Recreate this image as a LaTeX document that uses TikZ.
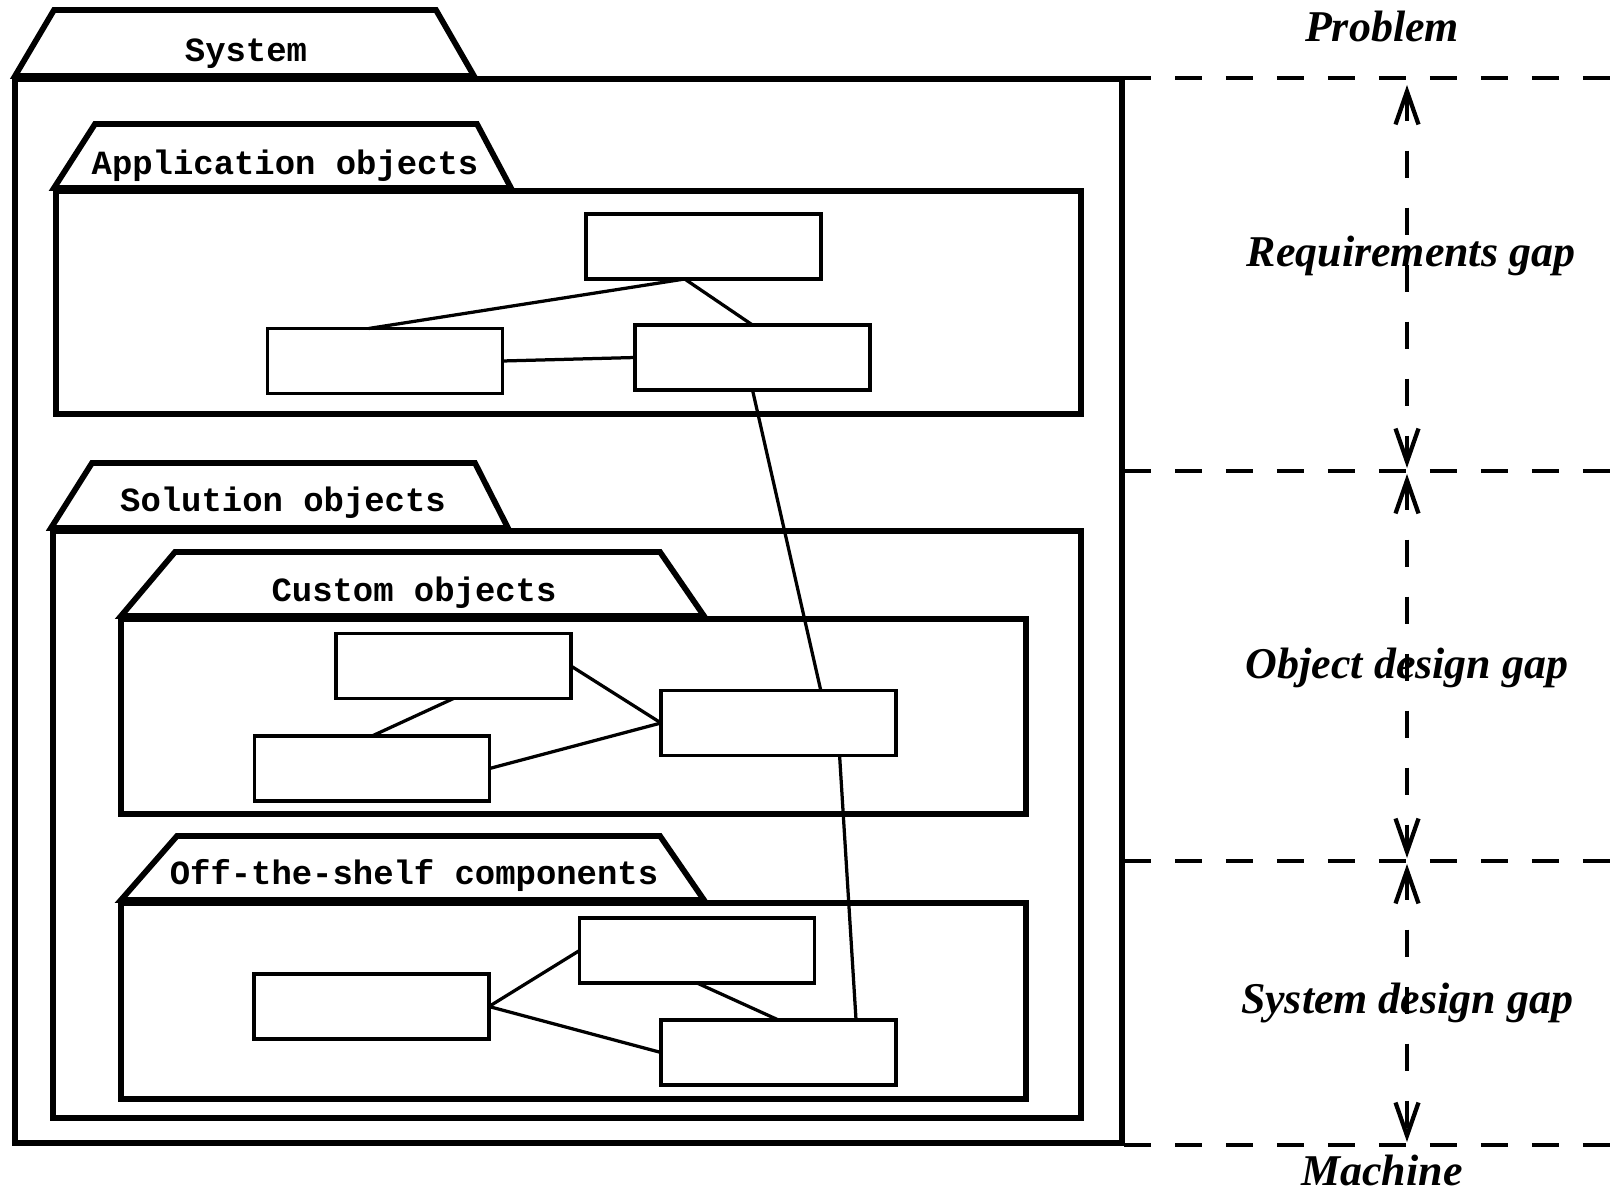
\documentclass[tikz,border=0pt]{standalone}
\usepackage{fontspec}
\setmonofont{Liberation Mono}
\newfontfamily\gapfont{Liberation Serif}
\usetikzlibrary{arrows.meta,calc}
\tikzset{
  pkg/.style={line width=0.115cm, line join=miter},
  cls/.style={draw, line width=0.07cm, minimum width=4.7cm, minimum height=1.3cm, inner sep=0pt, outer sep=0pt},
  link/.style={line width=0.065cm},
  pkglabel/.style={anchor=base, font=\ttfamily\bfseries\fontsize{19.3}{23}\selectfont},
  gaplabel/.style={anchor=base, font=\gapfont\bfseries\itshape\fontsize{25}{30}\selectfont},
  levelline/.style={line width=0.085cm, dash pattern=on 0.54cm off 0.48cm},
  gaparrow/.style={line width=0.085cm, dash pattern=on 0.54cm off 0.6cm,
    {Straight Barb[length=0.66cm,width=0.46cm]}-{Straight Barb[length=0.66cm,width=0.46cm]}}
}
\begin{document}
\begin{tikzpicture}[x=0.02cm,y=-0.02cm]
\useasboundingbox (0,0) rectangle (1610,1196);
%%%% packages
\draw[pkg] (15,76) -- (54,10) -- (436,10) -- (474,76) -- cycle;
\draw[pkg] (15,79) rectangle (1122,1143);
\draw[pkg] (54,188) -- (95,124) -- (477,124) -- (511,188) -- cycle;
\draw[pkg] (56,191) rectangle (1081,414);
\draw[pkg] (51,528) -- (92,463) -- (475,463) -- (508,528) -- cycle;
\draw[pkg] (53,531) rectangle (1081,1118);
\draw[pkg] (121,616) -- (175,552) -- (660,552) -- (704,616) -- cycle;
\draw[pkg] (121,619) rectangle (1026,814);
\draw[pkg] (121,900) -- (177,836) -- (660,836) -- (704,900) -- cycle;
\draw[pkg] (121,903) rectangle (1026,1099);
\node[pkglabel] (system) at (246,62) {System};
\node[pkglabel] (appl) at (285,175) {Application objects};
\node[pkglabel] (sol) at (283,511) {Solution objects};
\node[pkglabel] (cust) at (414,601) {Custom objects};
\node[pkglabel] (ots) at (414,884) {Off-the-shelf components};
%%%% classes
\node[cls] (A1) at (703.5,246.5) {};
\node[cls] (A2) at (385,361) {};
\node[cls] (A3) at (752.5,357.5) {};
\node[cls] (C1) at (453.5,666) {};
\node[cls] (C2) at (372,768.5) {};
\node[cls] (C3) at (778.5,723) {};
\node[cls] (O1) at (697,950.5) {};
\node[cls] (O2) at (371.5,1006.5) {};
\node[cls] (O3) at (778.5,1052.5) {};
%%%% associations
\draw[link] ($(A1.south west)!0.42!(A1.south east)$) -- ($(A2.north west)!0.43!(A2.north east)$);
\draw[link] ($(A1.south west)!0.42!(A1.south east)$) -- (A3.north);
\draw[link] (A2.east) -- (A3.west);
\draw[link] (A3.south) -- ($(C3.north west)!0.68!(C3.north east)$);
\draw[link] (C1.south) -- (C2.north);
\draw[link] (C1.east) -- (C3.west);
\draw[link] (C2.east) -- (C3.west);
\draw[link] ($(C3.south west)!0.76!(C3.south east)$) -- ($(O3.north west)!0.83!(O3.north east)$);
\draw[link] (O1.west) -- (O2.east);
\draw[link] (O2.east) -- (O3.west);
\draw[link] (O1.south) -- (O3.north);
%%%% gaps
\coordinate (lv0) at (1124,78);
\coordinate (lv1) at (1124,471);
\coordinate (lv2) at (1124,861);
\coordinate (lv3) at (1124,1145);
\draw[levelline] (lv0) -- ++(486,0);
\draw[levelline] (lv1) -- ++(486,0);
\draw[levelline] (lv2) -- ++(486,0);
\draw[levelline] (lv3) -- ++(486,0);
\node[gaplabel] (prob) at (1382,42) {Problem};
\node[gaplabel] (req) at (1411,267) {Requirements gap};
\node[gaplabel] (objd) at (1407,678) {Object design gap};
\node[gaplabel] (sysd) at (1407,1013) {System design gap};
\node[gaplabel] (mach) at (1382,1185) {Machine};
\coordinate (g0) at (1407,85);
\coordinate (g1) at (1407,468);
\coordinate (g2) at (1407,474);
\coordinate (g3) at (1407,858);
\coordinate (g4) at (1407,864);
\coordinate (g5) at (1407,1142);
\draw[gaparrow] (g0) -- (g1);
\draw[gaparrow] (g2) -- (g3);
\draw[gaparrow] (g4) -- (g5);
\end{tikzpicture}
\end{document}
